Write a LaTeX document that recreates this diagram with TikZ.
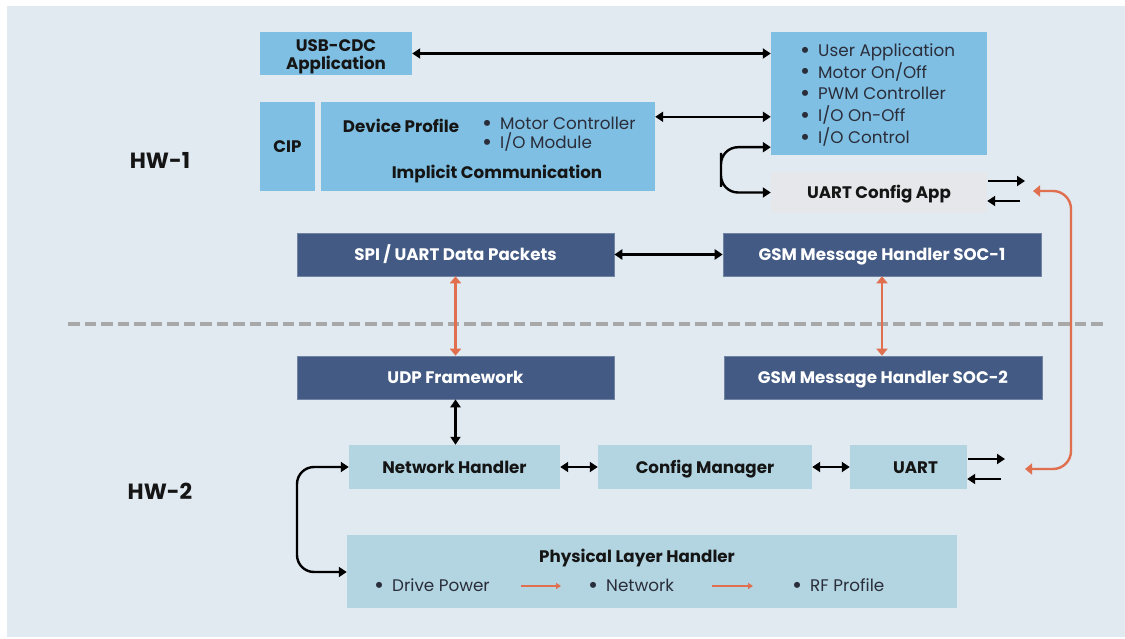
\documentclass[tikz,border=0pt]{standalone}
\usepackage{fontspec}
\usepackage{graphicx}
\setmainfont{Poppins}
\usetikzlibrary{arrows.meta,calc}
\definecolor{panel}{HTML}{E1E9F1}
\definecolor{skyblk}{HTML}{7FBFE3}
\definecolor{navyblk}{HTML}{425A84}
\definecolor{tealblk}{HTML}{B2D5E1}
\definecolor{greyblk}{HTML}{E6E7EA}
\definecolor{accent}{HTML}{E06F4F}
\definecolor{ink}{HTML}{151515}
\definecolor{softink}{HTML}{2A2D3A}
\definecolor{divider}{HTML}{A8A8A8}
% a larger list bullet
\newcommand\bul{\raisebox{-0.1em}{\scalebox{1.45}{\textbullet}}\hspace{8pt}}
\begin{document}
\begin{tikzpicture}[x=1pt,y=-1pt,
  blk/.style={inner sep=0pt, minimum width=#1},
  lbl/.style={font=\fontsize{16.7}{18}\selectfont\bfseries, text=ink, align=center},
  oneline/.style={text height=12.5pt, text depth=0pt},
  sky/.style={blk=#1, fill=skyblk, lbl},
  navy/.style={blk=#1, fill=navyblk, draw=navyblk!75!white, line width=0.6pt, minimum height=43pt,
    font=\fontsize{16.7}{18}\selectfont\bfseries, text=white, oneline},
  teal/.style={blk=#1, fill=tealblk, minimum height=44pt, lbl, oneline},
  plain/.style={font=\fontsize{16.8}{19}\selectfont, text=softink, inner sep=0pt},
  dbl/.style={{Triangle[length=8pt,width=10pt]}-{Triangle[length=8pt,width=10pt]}, line width=2.4pt, black},
  sarr/.style={-{Triangle[length=8pt,width=10pt]}, line width=2.4pt, black},
  odbl/.style={{Triangle[length=7pt,width=11pt]}-{Triangle[length=7pt,width=11pt]}, line width=2.4pt, accent},
  oarr/.style={-{Triangle[length=5pt,width=6pt]}, line width=1.6pt, accent},
]
\useasboundingbox (0,0) rectangle (1125,639);
\fill[white] (0,0) rectangle (1125,639);
\fill[panel] (7,6) rectangle (1125,637);

% hardware labels
\node[font=\fontsize{22}{24}\selectfont\bfseries, text=ink] (hw1) at (160,160) {HW-1};
\node[font=\fontsize{22}{24}\selectfont\bfseries, text=ink] (hw2) at (160,491) {HW-2};

% divider between the two boards
\draw[divider, line width=3.5pt, dash pattern=on 11.5pt off 5pt] (68,324) -- (1103,324);

% HW-1 blocks
\node[sky=152pt, minimum height=43pt] (usb) at (336,53.5) {};
\node[lbl] (usbtext) at (336,57) {USB-CDC\\Application};
\node[sky=55pt, minimum height=89pt, oneline] (cip) at (287.5,146.5) {CIP};
\node[sky=334pt, minimum height=89pt] (dp) at (488,146.5) {};
\node[lbl, oneline] (dptitle) at (401,126) {Device Profile};
\node[plain, anchor=west, align=left, font=\fontsize{16.8}{19}\selectfont] (dplist) at (482,134.5)
  {\bul Motor Controller\\\bul I/O Module};
\node[lbl, oneline] (implicit) at (497,172) {Implicit Communication};

\node[blk=216pt, minimum height=123pt, fill=skyblk] (ua) at (879,93.5) {};
\node[plain, anchor=west, align=left, font=\fontsize{16.8}{21.8}\selectfont] (ualist) at (800,95)
  {\bul User Application\\
   \bul Motor On/Off\\
   \bul PWM Controller\\
   \bul I/O On-Off\\
   \bul I/O Control};
\node[blk=216pt, minimum height=41pt, fill=greyblk, lbl, oneline] (uca) at (879,192.5) {UART Config App};

\node[navy=317pt] (spi) at (455.5,254.5) {SPI / UART Data Packets};
\node[navy=318pt] (gsm1) at (882,254.5) {GSM Message Handler SOC-1};

% HW-2 blocks
\node[navy=317pt] (udp) at (455.5,377.5) {UDP Framework};
\node[navy=318pt] (gsm2) at (883,377.5) {GSM Message Handler SOC-2};

\node[teal=211pt] (nh) at (454.5,467) {Network Handler};
\node[teal=214pt] (cm) at (705,467) {Config Manager};
\node[teal=117pt] (uart) at (908.5,467) {\hspace{14pt}UART};

\node[blk=610pt, minimum height=73pt, fill=tealblk] (plh) at (652,571.5) {};
\node[lbl, oneline] (plhtitle) at (637,556) {Physical Layer Handler};
\node[plain, anchor=west] (pdrive) at (374,586) {\bul Drive Power};
\node[plain, anchor=west] (pnet) at (588,586) {\bul Network};
\node[plain, anchor=west] (prf) at (792,586) {\bul RF Profile};
\draw[oarr, shorten <=31pt, shorten >=27pt] (pdrive.east) -- (pnet.west);
\draw[oarr, shorten <=38pt, shorten >=39pt] (pnet.east) -- (prf.west);

% HW-1 connectors
\draw[dbl] (usb.east) -- (usb.east -| ua.west);
\draw[dbl] ($(dp.north east)+(0,15)$) -- ($(dp.north east -| ua.west)+(0,15)$);
\draw[dbl, rounded corners=17pt] ($(ua.south west)+(0,-8)$) -| (721,170) |- (uca.west);
\draw[dbl] (spi.east) -- (gsm1.west);

\coordinate (ucaOutEnd) at (1025,181);
\coordinate (ucaInStart) at (1020,201);
\draw[sarr] ($(uca.east)+(1,-11.5)$) -- (ucaOutEnd);
\draw[sarr] (ucaInStart) -- ($(uca.east)+(0,8.5)$);

% links across the boards
\draw[odbl] (spi.south) -- (udp.north);
\draw[odbl] (gsm1.south) -- (gsm1.south |- gsm2.north);

% HW-2 connectors
\draw[dbl] (udp.south) -- (udp.south |- nh.north);
\draw[dbl] (nh.east) -- (cm.west);
\draw[dbl] (cm.east) -- (uart.west);
\draw[dbl, rounded corners=17pt] (nh.west) -| (297,520) |- ($(plh.west)+(0,0.5)$);

\coordinate (uartOutEnd) at (1005,459);
\coordinate (uartInStart) at (1001,479);
\draw[sarr] ($(uart.east)+(1,-8)$) -- (uartOutEnd);
\draw[sarr] (uartInStart) -- ($(uart.east)+(0,12)$);

% serial link between the two UARTs
\coordinate (ucaPort) at (1033,191);
\coordinate (uartPort) at (1025,469);
\draw[odbl, rounded corners=18pt] (ucaPort) -| (1071,330) |- (uartPort);
\end{tikzpicture}
\end{document}
